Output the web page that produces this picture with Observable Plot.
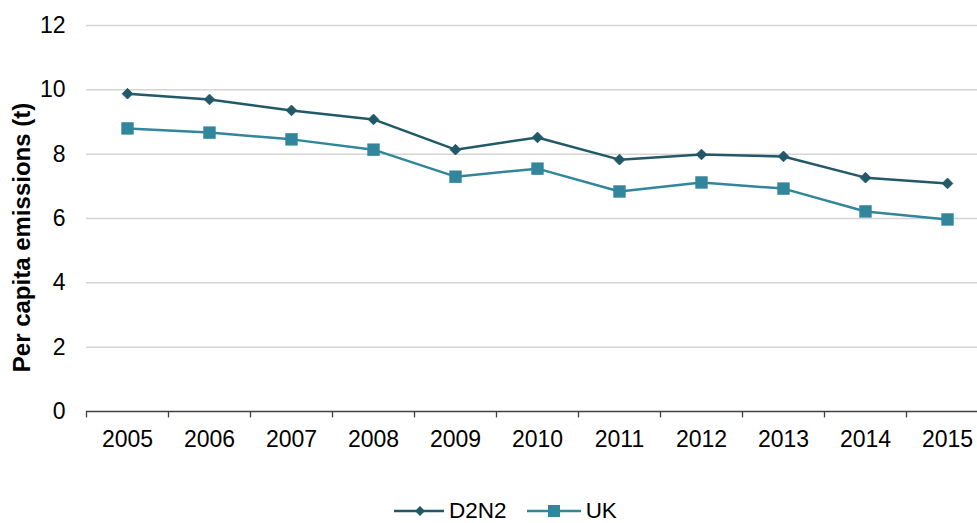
<!DOCTYPE html>
<html>
<head>
<meta charset="utf-8">
<script src="https://cdn.jsdelivr.net/npm/d3@7"></script>
<script src="https://cdn.jsdelivr.net/npm/@observablehq/plot@0.6"></script>
<style>
  html, body { margin: 0; background: #fff; overflow: hidden; font-family: "Liberation Sans", Arial, sans-serif; }
  #chart svg { display: block; }
  #legend { display: flex; justify-content: center; align-items: center; gap: 20px; height: 24px; font-size: 22.5px; line-height: 1; color: #000; padding-left: 34px; }
  #legend .item { display: flex; align-items: center; gap: 5px; }
  #legend span { line-height: 1; }
</style>
</head>
<body>
<div id="chart"></div>
<div id="legend"></div>
<script>
const years = ["2005","2006","2007","2008","2009","2010","2011","2012","2013","2014","2015"];
const d2n2 = [9.88, 9.70, 9.36, 9.08, 8.14, 8.52, 7.83, 7.99, 7.93, 7.27, 7.09];
const uk   = [8.80, 8.67, 8.46, 8.14, 7.30, 7.55, 6.84, 7.12, 6.93, 6.22, 5.97];
const yTicks = [0, 2, 4, 6, 8, 10, 12];
const seriesNames = ["D2N2", "UK"];
const yTitle = "Per capita emissions (t)";
const colors = {D2N2: "#215968", UK: "#31869b"};

const rows = [];
years.forEach((y, i) => {
  rows.push({year: y, series: "D2N2", value: d2n2[i]});
  rows.push({year: y, series: "UK", value: uk[i]});
});
const dRows = rows.filter(d => d.series === "D2N2");
const uRows = rows.filter(d => d.series === "UK");

const W = 977, H = 499;
const left = 86, band = 82;
const chart = Plot.plot({
  width: W,
  height: H,
  marginTop: 25,
  marginBottom: H - 411,
  marginLeft: left,
  marginRight: 0,
  style: {fontFamily: "'Liberation Sans', Arial, sans-serif", fontSize: "23px", color: "#000", background: "#fff"},
  x: {type: "band", domain: years, range: [left, left + band * years.length], padding: 0},
  y: {domain: [0, 12], range: [411, 25]},
  marks: [
    Plot.ruleY(yTicks.filter(t => t > 0), {stroke: "#d4d4d4", strokeWidth: 1.5}),
    Plot.ruleX(years, {x: d => d, dx: -band / 2, y1: 0, y2: -0.2, stroke: "#404040", strokeWidth: 1.3}),
    Plot.ruleY([0], {stroke: "#404040", strokeWidth: 1.3}),
    Plot.axisY({ticks: yTicks, tickSize: 0, tickPadding: 21, tickFormat: d => String(d), fontSize: 23, fill: "#000", label: null}),
    Plot.axisX({tickSize: 0, tickPadding: 19, fontSize: 23, fill: "#000", label: null}),
    Plot.text([yTitle], {text: d => d, frameAnchor: "left", rotate: -90, dx: -64, dy: 19, fontWeight: "bold", fontSize: 24, fill: "#000", textAnchor: "middle"}),
    Plot.line(dRows, {x: "year", y: "value", stroke: colors.D2N2, strokeWidth: 2.5}),
    Plot.dot(dRows, {x: "year", y: "value", symbol: "diamond2", r: 4.8, fill: colors.D2N2, stroke: colors.D2N2, strokeWidth: 1}),
    Plot.line(uRows, {x: "year", y: "value", stroke: colors.UK, strokeWidth: 2.5}),
    Plot.dot(uRows, {x: "year", y: "value", symbol: "square", r: 7.0, fill: colors.UK, stroke: "none"})
  ]
});
document.getElementById("chart").appendChild(chart);

// legend
const legend = document.getElementById("legend");
const markers = {D2N2: "diamond", UK: "square"};
seriesNames.forEach(name => {
  const item = document.createElement("div");
  item.className = "item";
  const c = colors[name];
  const m = markers[name] === "diamond"
    ? `<path d="M26,${12-5}L${26+5},12L26,${12+5}L${26-5},12Z" fill="${c}"/>`
    : `<rect x="${27-6}" y="6" width="12" height="12" fill="${c}"/>`;
  item.innerHTML = `<svg width="${name === "UK" ? 54 : 50}" height="24"><line x1="0" x2="54" y1="12" y2="12" stroke="${c}" stroke-width="2.5"/>${m}</svg><span>${name}</span>`;
  legend.appendChild(item);
});
</script>
</body>
</html>
